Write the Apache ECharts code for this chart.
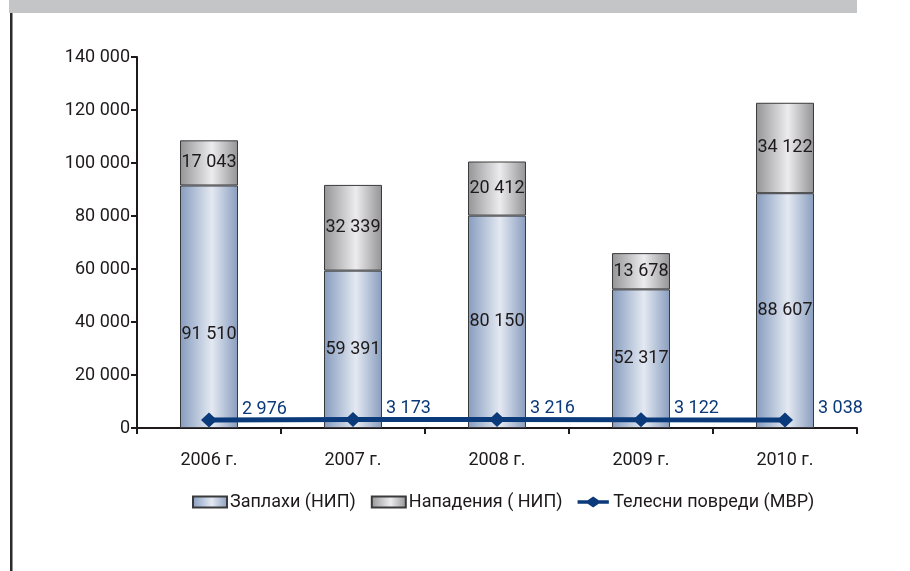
<!DOCTYPE html>
<html>
<head>
<meta charset="utf-8">
<style>
  html, body { margin: 0; padding: 0; background: #ffffff; }
  #chart { width: 910px; height: 571px; }
</style>
<script src="https://cdn.jsdelivr.net/npm/echarts@6/dist/echarts.min.js"></script>
</head>
<body>
<div id="chart"></div>
<script>
// Years shown along the category axis
const years = ['2006 г.', '2007 г.', '2008 г.', '2009 г.', '2010 г.'];
// Threats registered by the National Investigation Service
const threats = [91510, 59391, 80150, 52317, 88607];
// Assaults registered by the National Investigation Service
const assaults = [17043, 32339, 20412, 13678, 34122];
// Bodily injuries registered by the Ministry of Interior
const injuries = [2976, 3173, 3216, 3122, 3038];
// Value axis ticks
const yMin = 0, yMax = 140000, yStep = 20000;

const FONT = "Roboto, 'Open Sans', 'DejaVu Sans', sans-serif";
const TXT = '#1e1a1b';
const NAVY = '#0b3a7a';

function fmt(v) {
  return String(v).replace(/\B(?=(\d{3})+(?!\d))/g, ' ');
}

const blueFill = new echarts.graphic.LinearGradient(0, 0, 1, 0, [
  { offset: 0, color: '#869cbe' },
  { offset: 0.55, color: '#e4e9f2' },
  { offset: 1, color: '#889dbe' }
]);
const grayFill = new echarts.graphic.LinearGradient(0, 0, 1, 0, [
  { offset: 0, color: '#959597' },
  { offset: 0.55, color: '#ececee' },
  { offset: 1, color: '#939395' }
]);

// Legend glyph for the line series: a thick stroke with a diamond in the middle
const lineIcon = 'path://M0,4.5 L12,4.5 L18.5,0 L25,4.5 L37,4.5 L37,8.5 L25,8.5 L18.5,13 L12,8.5 L0,8.5 Z';

const chart = echarts.init(document.getElementById('chart'), null, { renderer: 'canvas' });

chart.setOption({
  animation: false,
  backgroundColor: '#ffffff',
  textStyle: { fontFamily: FONT },
  graphic: [
    { type: 'rect', shape: { x: 9, y: 0, width: 848, height: 13 }, style: { fill: '#c4c5c7' }, silent: true },
    { type: 'rect', shape: { x: 10, y: 13, width: 2.5, height: 558 }, style: { fill: '#2b2b2b' }, silent: true }
  ],
  grid: { left: 137, right: 53, top: 57, bottom: 143, containLabel: false },
  legend: {
    top: 488,
    left: 187,
    itemWidth: 34,
    itemHeight: 11,
    itemGap: 15,
    symbolKeepAspect: true,
    textStyle: { fontFamily: FONT, fontSize: 18, color: TXT, padding: [0, 0, 0, -2] },
    data: [
      { name: 'Заплахи (НИП)', icon: 'rect' },
      { name: 'Нападения ( НИП)', icon: 'rect' },
      { name: 'Телесни повреди (МВР)', icon: lineIcon }
    ]
  },
  xAxis: {
    type: 'category',
    data: years,
    boundaryGap: true,
    axisLine: { lineStyle: { color: TXT, width: 2 } },
    axisTick: { show: true, length: 6, alignWithLabel: false, lineStyle: { color: TXT, width: 2 } },
    axisLabel: { color: TXT, fontSize: 18, margin: 23, fontFamily: FONT },
    splitLine: { show: false }
  },
  yAxis: {
    type: 'value',
    min: yMin,
    max: yMax,
    interval: yStep,
    axisLine: { show: true, lineStyle: { color: TXT, width: 2 } },
    axisTick: { show: true, length: 6, lineStyle: { color: TXT, width: 2 } },
    axisLabel: { color: TXT, fontSize: 18, margin: 7, fontFamily: FONT, formatter: v => fmt(v) },
    splitLine: { show: false }
  },
  series: [
    {
      name: 'Заплахи (НИП)',
      type: 'bar',
      stack: 'nip',
      barWidth: 58,
      itemStyle: { color: blueFill, borderColor: '#3a3a3c', borderWidth: 1 },
      label: {
        show: true, position: 'inside', color: TXT, fontSize: 18, fontFamily: FONT,
        formatter: p => fmt(p.value)
      },
      data: threats.map((v, i) => i === 0 ? { value: v, label: { offset: [0, 28] } } : v),
      z: 2
    },
    {
      name: 'Нападения ( НИП)',
      type: 'bar',
      stack: 'nip',
      barWidth: 58,
      itemStyle: { color: grayFill, borderColor: '#3a3a3c', borderWidth: 1 },
      label: {
        show: true, position: 'inside', color: TXT, fontSize: 18, fontFamily: FONT,
        formatter: p => fmt(p.value)
      },
      data: assaults,
      z: 2
    },
    {
      name: 'Телесни повреди (МВР)',
      type: 'line',
      data: injuries,
      symbol: 'diamond',
      symbolSize: [16, 15],
      lineStyle: { color: NAVY, width: 5 },
      itemStyle: { color: NAVY },
      label: {
        show: true, position: 'right', distance: 25, offset: [0, -11],
        color: NAVY, fontSize: 18, fontFamily: FONT,
        formatter: p => fmt(p.value)
      },
      z: 5
    }
  ]
});
</script>
</body>
</html>
